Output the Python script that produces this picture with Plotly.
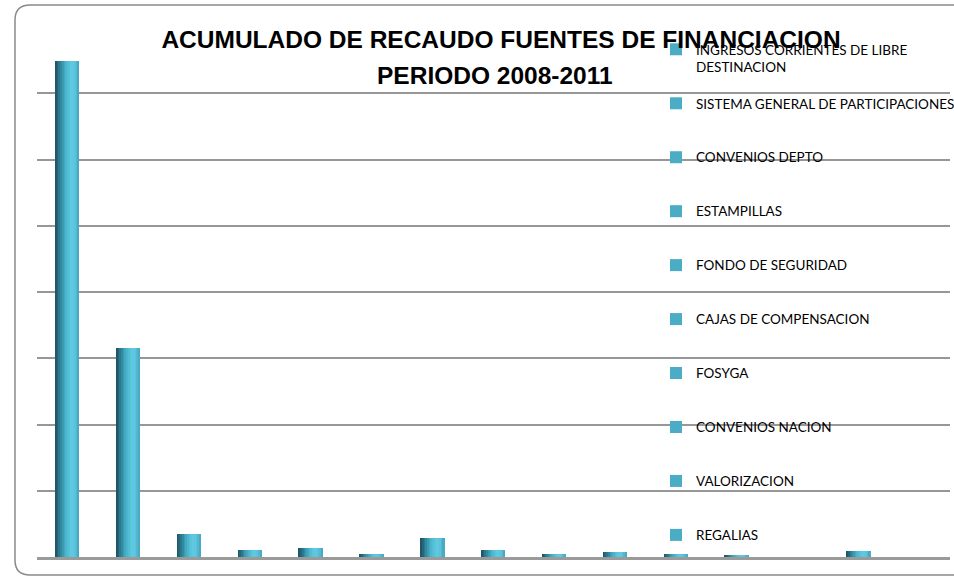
import plotly.graph_objects as go

# Funding sources (categories) and accumulated collection 2008-2011
fuentes = [
    "INGRESOS CORRIENTES DE LIBRE<br>DESTINACION",
    "SISTEMA GENERAL DE PARTICIPACIONES",
    "CONVENIOS DEPTO",
    "ESTAMPILLAS",
    "FONDO DE SEGURIDAD",
    "CAJAS DE COMPENSACION",
    "FOSYGA",
    "CONVENIOS NACION",
    "VALORIZACION",
    "REGALIAS",
    "RECURSOS DEL CREDITO",
    "RECURSOS DEL BALANCE",
    "RENDIMIENTOS FINANCIEROS",
    "COFINANCIACION",
    "OTROS",
]
recaudo = [7.49, 3.15, 0.35, 0.10, 0.13, 0.045, 0.28, 0.11, 0.04, 0.075,
           0.04, 0.02, 0.0, 0.09, 0.0]
legend_visible = 10  # entries that fit in the legend column
titulo = ["ACUMULADO DE RECAUDO FUENTES DE FINANCIACION", "PERIODO 2008-2011"]

BAR_W = 0.394
BASE = "#4bacc6"
# left-to-right shading across each bar to give it a cylindrical look
shade = ["#1f5767", "#25677a", "#2c788d", "#338a9f", "#3a9bb1", "#42a9c0",
         "#4ab5cc", "#52bed5", "#59c4db", "#5ec8df", "#5fc8df", "#5ac2da",
         "#52b7cf", "#48aac3"]

fig = go.Figure()

# one trace per source: carries the legend entry
for i, (name, val) in enumerate(zip(fuentes, recaudo)):
    fig.add_trace(go.Bar(
        x=[i], y=[val], name=name, width=BAR_W,
        marker=dict(color=BASE, line=dict(width=0)),
        legend="legend" if i == 0 else "legend2",
        legendgroup=name,
        showlegend=i < legend_visible,
        hovertemplate=name.replace("<br>", " ") + ": %{y}<extra></extra>",
    ))

# vertical slices painted over every bar
n = len(shade)
xs = list(range(len(fuentes)))
for k, col in enumerate(shade):
    fig.add_trace(go.Bar(
        x=xs, y=recaudo, width=BAR_W / n,
        offset=-BAR_W / 2 + k * BAR_W / n,
        marker=dict(color=col, line=dict(width=0)),
        showlegend=False, hoverinfo="skip",
    ))

# plot-area geometry in pixels
L, T, B, R = 37, 27, 557, 950
pw, ph = R - L, B - T
def px(x): return (x - L) / pw
def py(y): return (B - y) / ph

# chart frame with rounded corners
x0, x1, y0, y1 = px(15), px(975), py(5), py(575)
rx, ry = 15 / pw, 15 / ph
frame = (f"M{x0},{y0 - ry} L{x0},{y1 + ry} Q{x0},{y1} {x0 + rx},{y1} "
         f"L{x1 - rx},{y1} Q{x1},{y1} {x1},{y1 + ry} L{x1},{y0 - ry} "
         f"Q{x1},{y0} {x1 - rx},{y0} L{x0 + rx},{y0} Q{x0},{y0} {x0},{y0 - ry} Z")

legend_font = dict(family="Lato", size=13.5, color="#000000")
title_font = dict(family="Liberation Sans", size=24.5, color="#000000",
                  weight="bold")

fig.update_layout(
    width=954, height=576,
    margin=dict(l=L, r=954 - R, t=T, b=576 - B, autoexpand=False),
    paper_bgcolor="white", plot_bgcolor="white",
    barmode="overlay", bargap=0,
    title=dict(
        text=titulo[0],
        x=501 / 954, xref="container", xanchor="center",
        y=1 - 39 / 576, yref="container", yanchor="middle",
        font=title_font,
    ),
    annotations=[dict(
        text=titulo[1], x=px(495), y=py(76), xref="paper", yref="paper",
        xanchor="center", yanchor="middle", showarrow=False, font=title_font,
    )],
    xaxis=dict(range=[-0.5, len(fuentes) - 0.5], showticklabels=False,
               ticks="", showgrid=False, zeroline=False,
               showline=True, linecolor="#9a9a9a", linewidth=2.5),
    yaxis=dict(range=[0, 8.004], dtick=1, showticklabels=False, ticks="",
               showgrid=True, gridcolor="#979797", gridwidth=1.6,
               zeroline=False, showline=False),
    legend=dict(x=px(656), y=py(34), xanchor="left", yanchor="top",
                bgcolor="rgba(0,0,0,0)", borderwidth=0, valign="top",
                font=legend_font),
    legend2=dict(x=px(656), y=py(88), xanchor="left", yanchor="top",
                 bgcolor="rgba(0,0,0,0)", borderwidth=0,
                 traceorder="grouped", tracegroupgap=33.4,
                 font=legend_font),
    shapes=[dict(type="path", path=frame, xref="paper", yref="paper",
                 line=dict(color="#8a8a8a", width=1.5), layer="below")],
    showlegend=True,
)

fig.write_html("out.html")
